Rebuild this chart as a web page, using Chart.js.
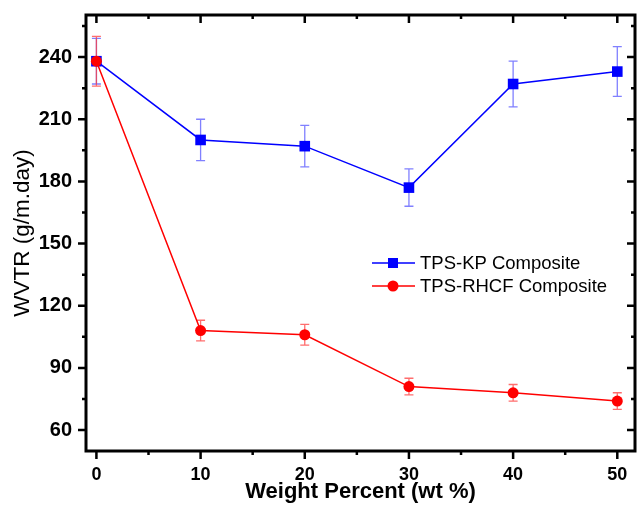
<!DOCTYPE html>
<html>
<head>
<meta charset="utf-8">
<script src="https://cdn.jsdelivr.net/npm/chart.js@4.4.0/dist/chart.umd.min.js"></script>
<style>
  html, body { margin: 0; padding: 0; background: #fff; }
  #wrap { width: 638px; height: 506px; }
</style>
</head>
<body>
<div id="wrap"><canvas id="wvtr-chart" width="638" height="506"></canvas></div>
<script>
// data
const weightPercent = [0, 10, 20, 30, 40, 50];
const kpValues = [238, 200, 197, 177, 227, 233];
const kpErrors = [11, 10, 10, 9, 11, 12];
const rhcfValues = [238, 108, 106, 81, 78, 74];
const rhcfErrors = [12, 5, 5, 4, 4, 4];
const xTicks = [0, 10, 20, 30, 40, 50];
const yTicks = [60, 90, 120, 150, 180, 210, 240];

const BLUE = '#0000ff';
const RED = '#ff0000';
const FONT = "'Liberation Sans', Arial, sans-serif";

function toPoints(xs, ys) {
    return xs.map((x, i) => ({ x: x, y: ys[i] }));
}

// error bars, drawn under the markers
const errorBars = {
    id: 'errorBars',
    beforeDatasetsDraw(chart) {
        const ctx = chart.ctx;
        const xs = chart.scales.x, ys = chart.scales.y;
        const sets = [
            { vals: kpValues, err: kpErrors, color: 'rgba(60,60,255,0.65)' },
            { vals: rhcfValues, err: rhcfErrors, color: 'rgba(255,60,60,0.75)' }
        ];
        ctx.save();
        ctx.lineWidth = 1.3;
        sets.forEach(s => {
            ctx.strokeStyle = s.color;
            weightPercent.forEach((w, i) => {
                const px = xs.getPixelForValue(w);
                const top = ys.getPixelForValue(s.vals[i] + s.err[i]);
                const bot = ys.getPixelForValue(s.vals[i] - s.err[i]);
                ctx.beginPath();
                ctx.moveTo(px, top); ctx.lineTo(px, bot);
                ctx.moveTo(px - 4.5, top); ctx.lineTo(px + 4.5, top);
                ctx.moveTo(px - 4.5, bot); ctx.lineTo(px + 4.5, bot);
                ctx.stroke();
            });
        });
        ctx.restore();
    }
};

// box frame, major/minor ticks and the legend inside the plot
const frameAndLegend = {
    id: 'frameAndLegend',
    afterDraw(chart) {
        const ctx = chart.ctx;
        const a = chart.chartArea;
        const xs = chart.scales.x, ys = chart.scales.y;
        ctx.save();
        ctx.strokeStyle = '#000';
        ctx.lineWidth = 3;
        ctx.strokeRect(a.left, a.top, a.right - a.left, a.bottom - a.top);

        ctx.lineWidth = 2.5;
        ctx.beginPath();
        for (let v = 0; v <= 50; v += 5) {
            const px = xs.getPixelForValue(v);
            const len = v % 10 === 0 ? 8 : 4;
            ctx.moveTo(px, a.bottom); ctx.lineTo(px, a.bottom + len);
            ctx.moveTo(px, a.top); ctx.lineTo(px, a.top + len);
        }
        for (let v = 60; v <= 255; v += 15) {
            const py = ys.getPixelForValue(v);
            const len = v % 30 === 0 ? 8 : 4;
            ctx.moveTo(a.left, py); ctx.lineTo(a.left - len, py);
            ctx.moveTo(a.right, py); ctx.lineTo(a.right - len, py);
        }
        ctx.stroke();

        // legend
        const rows = [
            { label: 'TPS-KP Composite', color: BLUE, style: 'rect', y: 263 },
            { label: 'TPS-RHCF Composite', color: RED, style: 'circle', y: 286 }
        ];
        ctx.font = '18.5px ' + FONT;
        ctx.textBaseline = 'middle';
        rows.forEach(r => {
            ctx.strokeStyle = r.color;
            ctx.fillStyle = r.color;
            ctx.lineWidth = 1.5;
            ctx.beginPath();
            ctx.moveTo(372, r.y); ctx.lineTo(415, r.y);
            ctx.stroke();
            if (r.style === 'rect') {
                ctx.fillRect(388, r.y - 5, 10, 10);
            } else {
                ctx.beginPath();
                ctx.arc(393, r.y, 5.5, 0, Math.PI * 2);
                ctx.fill();
            }
            ctx.fillStyle = '#000';
            ctx.fillText(r.label, 420, r.y + 1);
        });
        ctx.restore();
    }
};

const wvtrCanvas = document.getElementById('wvtr-chart');

const wvtrData = {
    datasets: [{
        label: 'TPS-KP Composite',
        data: toPoints(weightPercent, kpValues),
        borderColor: BLUE,
        backgroundColor: BLUE,
        borderWidth: 1.5,
        pointStyle: 'rect',
        pointRadius: 7.5,
        pointBorderWidth: 0,
        order: 1
    }, {
        label: 'TPS-RHCF Composite',
        data: toPoints(weightPercent, rhcfValues),
        borderColor: RED,
        backgroundColor: RED,
        borderWidth: 1.5,
        pointStyle: 'circle',
        pointRadius: 5.5,
        pointBorderWidth: 0,
        order: 0
    }]
};

const wvtrConfig = {
    type: 'line',
    data: wvtrData,
    plugins: [errorBars, frameAndLegend],
    options: {
        responsive: false,
        animation: false,
        layout: { autoPadding: false, padding: { left: 0, right: 3, top: 15, bottom: 0 } },
        plugins: {
            legend: { display: false },
            tooltip: { enabled: false }
        },
        scales: {
            x: {
                type: 'linear',
                min: -1,
                max: 51.7,
                afterBuildTicks: (scale) => { scale.ticks = xTicks.map(v => ({ value: v })); },
                afterFit: (scale) => {
                    scale.height = 55;
                    scale.paddingLeft = 0;
                    scale.paddingRight = 0;
                },
                grid: { display: false },
                border: { display: false },
                ticks: {
                    color: '#000',
                    padding: 5,
                    font: { family: FONT, size: 18, weight: 'bold' }
                },
                title: {
                    display: true,
                    text: 'Weight Percent (wt %)',
                    color: '#000',
                    padding: { top: 0, bottom: 1 },
                    font: { family: FONT, size: 22, weight: 'bold' }
                }
            },
            y: {
                min: 49.9,
                max: 260.3,
                afterBuildTicks: (scale) => { scale.ticks = yTicks.map(v => ({ value: v })); },
                afterFit: (scale) => {
                    scale.width = 86;
                    scale.paddingTop = 0;
                    scale.paddingBottom = 0;
                },
                grid: { display: false },
                border: { display: false },
                ticks: {
                    color: '#000',
                    padding: 6,
                    font: { family: FONT, size: 20, weight: 'bold' }
                },
                title: {
                    display: true,
                    text: 'WVTR (g/m.day)',
                    color: '#000',
                    padding: { top: 9, bottom: 0 },
                    font: { family: FONT, size: 22.5 }
                }
            }
        }
    }
};

const wvtrChart = new Chart(wvtrCanvas, wvtrConfig);
</script>
</body>
</html>
